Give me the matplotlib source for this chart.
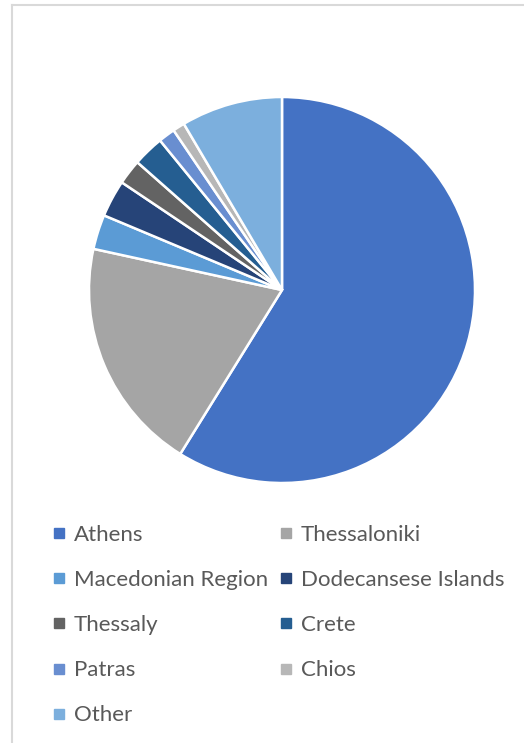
import matplotlib
matplotlib.use("Agg")
import matplotlib.pyplot as plt
from matplotlib.lines import Line2D

# share by region (%)
regions = ["Athens", "Thessaloniki", "Macedonian Region", "Dodecansese Islands",
           "Thessaly", "Crete", "Patras", "Chios", "Other"]
shares = [58.9, 19.6, 2.9, 3.1, 2.1, 2.6, 1.4, 1.0, 8.5]
colors = ["#4472C4", "#A5A5A5", "#5B9BD5", "#264478",
          "#636363", "#255E91", "#698ED0", "#B7B7B7", "#7CAFDD"]

W, H = 524, 743
fig = plt.figure(figsize=(W / 100, H / 100), dpi=100)
plt.rcParams['font.family'] = ['Lato', 'DejaVu Sans']

# pie area: centre (282, 290), radius 193 px
ax = fig.add_axes([89 / W, (H - 483) / H, 386 / W, 386 / H])
wedges, _ = ax.pie(shares, colors=colors, startangle=90, counterclock=False,
                   wedgeprops=dict(edgecolor="white", linewidth=1.8))
ax.set_xlim(-1, 1)
ax.set_ylim(-1, 1)
ax.set_aspect("equal")
ax.axis("off")

# chart border (left and top visible)
fig.add_artist(Line2D([11.5 / W, 11.5 / W], [0, (H - 4.5) / H], transform=fig.transFigure,
                      color="#D9D9D9", lw=1.5))
fig.add_artist(Line2D([11.5 / W, 1], [(H - 4.5) / H, (H - 4.5) / H], transform=fig.transFigure,
                      color="#D9D9D9", lw=1.5))

# legend, filled row by row
handles = [Line2D([], [], marker="s", linestyle="none", markersize=6.5,
                  markerfacecolor=c, markeredgecolor=c) for c in colors]
order = list(range(0, len(regions), 2)) + list(range(1, len(regions), 2))
leg = fig.legend([handles[i] for i in order], [regions[i] for i in order],
                 ncol=2, loc="upper left", bbox_to_anchor=(53 / W, (H - 525) / H),
                 frameon=False, fontsize=16, handlelength=0.55, handletextpad=0.4,
                 columnspacing=0.52, labelspacing=1.13, borderaxespad=0, borderpad=0)
for t in leg.get_texts():
    t.set_color("#595959")

fig.savefig("out.png", dpi=100)
